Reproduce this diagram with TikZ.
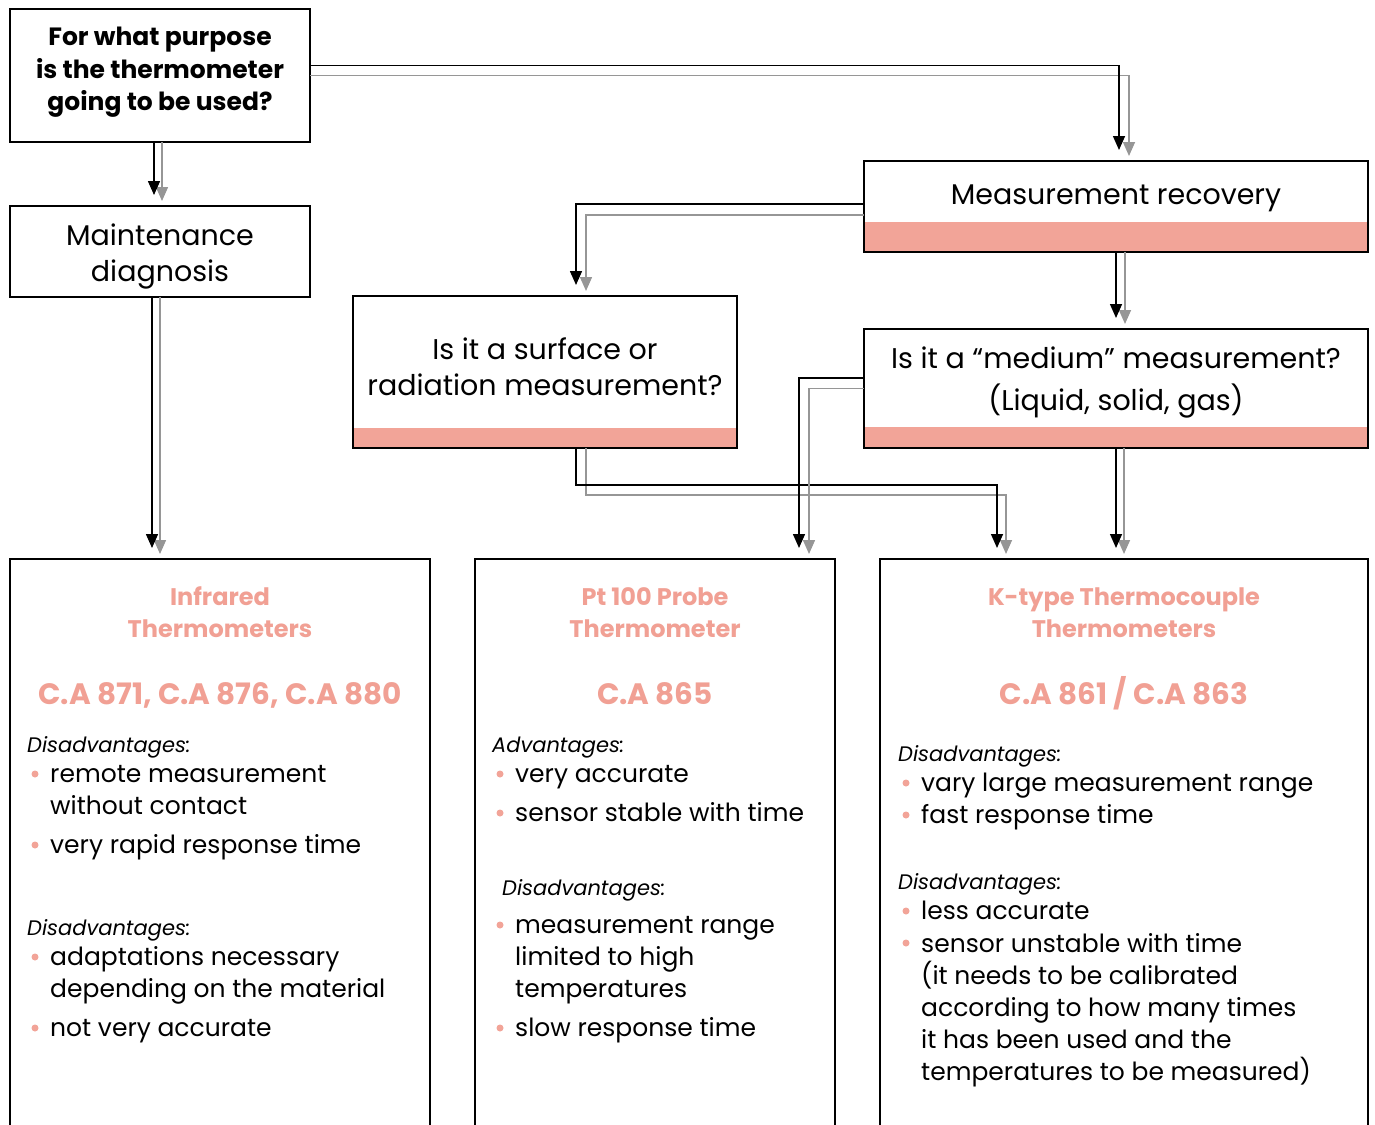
\documentclass[tikz,border=0pt]{standalone}
\usepackage{fontspec}
\setmainfont{Poppins}
\usetikzlibrary{arrows.meta}
\definecolor{barpink}{RGB}{242, 164, 152}
\definecolor{textpink}{RGB}{241, 160, 148}
\definecolor{linegrey}{RGB}{150, 150, 150}
\tikzset{
  box/.style={
    draw,
    line width=2.5pt,
    fill=white,
    inner sep=0pt,
    outer sep=0pt,
    anchor=north west,
  },
  bar/.style={
    path picture={
      \fill[barpink] ([yshift=#1]path picture bounding box.south west)
        rectangle (path picture bounding box.south east);
    },
  },
  blk/.style={draw=black, line width=1.5pt, -{Triangle[width=12pt,length=14pt]}, shorten >=11pt},
  gry/.style={draw=linegrey, line width=1.5pt, -{Triangle[width=12pt,length=14pt]}, shorten >=5pt},
  question/.style={font=\bfseries\fontsize{25}{32}\selectfont, align=center, anchor=base, inner sep=0pt},
  boxtext/.style={font=\fontsize{28.5}{36}\selectfont, align=center, anchor=base, inner sep=0pt},
  title/.style={text=textpink, font=\bfseries\fontsize{24}{32}\selectfont, align=center, anchor=base, inner sep=0pt},
  model/.style={text=textpink, font=\bfseries\fontsize{29.5}{32}\selectfont, anchor=base, inner sep=0pt},
  head/.style={font=\itshape\fontsize{21}{24}\selectfont, anchor=base west, inner sep=0pt},
  itemtext/.style={font=\fontsize{25}{32}\selectfont, align=left, anchor=base west, inner sep=0pt},
  dot/.style={circle, fill=barpink, inner sep=0pt, minimum size=7pt},
}
% bullet point: name, x of dot, x of text, first baseline, last baseline, text
\newcommand{\bitem}[6]{%
  \node[dot] (#1dot) at (#2,#4-8) {};
  \node[itemtext] (#1) at (#3,#5) {#6};
}

\begin{document}
\begin{tikzpicture}[x=1pt, y=-1pt]
  \useasboundingbox (0,0) rectangle (1375,1124);
  \clip (0,0) rectangle (1375,1124);

  % Question boxes
  \node[box, minimum width=300pt, minimum height=133pt] (purpose) at (10,9) {};
  \node[box, minimum width=300pt, minimum height=91pt] (maint) at (10,206) {};
  \node[box, bar=30pt, minimum width=504pt, minimum height=91pt] (recovery) at (864,161) {};
  \node[box, bar=20pt, minimum width=384pt, minimum height=152pt] (surface) at (353,296) {};
  \node[box, bar=21pt, minimum width=504pt, minimum height=119pt] (medium) at (864,329) {};

  % texts sit on the baseline of their last line
  \node[question] (purposetext) at (160,110) {For what purpose\\is the thermometer\\going to be used?};
  \node[boxtext] (mainttext) at (160,281) {Maintenance\\diagnosis};
  \node[boxtext] (recoverytext) at (1116,204) {Measurement recovery};
  \node[boxtext] (surfacetext) at (545,395) {Is it a surface or\\radiation measurement?};
  \node[boxtext, font=\fontsize{28.5}{42}\selectfont] (mediumtext) at (1116,410) {Is it a “medium” measurement?\\(Liquid, solid, gas)};

  % Thermometer boxes
  \node[box, minimum width=420pt, minimum height=600pt] (infrared) at (10,559) {};
  \node[box, minimum width=360pt, minimum height=600pt] (pt) at (475,559) {};
  \node[box, minimum width=488pt, minimum height=600pt] (ktype) at (880,559) {};

  % Connectors
  \draw[gry] (purpose.east) -| ([xshift=13pt]recovery.north);
  \draw[blk] ([yshift=10pt]purpose.east) -| ([xshift=3pt]recovery.north);
  \draw[gry] ([xshift=2pt]purpose.south) -- ([xshift=2pt]purpose.south |- maint.north);
  \draw[blk] ([xshift=-6pt]purpose.south) -- ([xshift=-6pt]purpose.south |- maint.north);
  \draw[gry] (maint.south) -- (maint.south |- infrared.north);
  \draw[blk] ([xshift=-8pt]maint.south) -- ([xshift=-8pt]maint.south |- infrared.north);
  \draw[gry] ([yshift=-8.5pt]recovery.west) -| ([xshift=41pt]surface.north);
  \draw[blk] ([yshift=2.5pt]recovery.west) -| ([xshift=31pt]surface.north);
  \draw[gry] ([xshift=9pt]recovery.south) -- ([xshift=9pt]recovery.south |- medium.north);
  \draw[blk] (recovery.south) -- (recovery.south |- medium.north);
  \draw[gry] ([xshift=41pt]surface.south) -- ++(0,47) -| ([xshift=-118pt]ktype.north);
  \draw[blk] ([xshift=31pt]surface.south) -- ++(0,37) -| ([xshift=-127pt]ktype.north);
  \draw[gry] (medium.west) -| ([xshift=154pt]pt.north);
  \draw[blk] ([yshift=10.5pt]medium.west) -| ([xshift=144pt]pt.north);
  \draw[gry] ([xshift=8pt]medium.south) -- ([xshift=8pt]medium.south |- ktype.north);
  \draw[blk] (medium.south) -- (medium.south |- ktype.north);

  % Infrared
  \node[title] (irtitle) at (220,637) {Infrared\\Thermometers};
  \node[model] (irmodel) at (220,704) {C.A 871, C.A 876, C.A 880};
  \node[head] (irhead) at (27,752) {Disadvantages:};
  \bitem{irremote}{35}{50}{782}{814}{remote measurement\\without contact}
  \bitem{irrapid}{35}{50}{853}{853}{very rapid response time}
  \node[head] (irheadb) at (27,935) {Disadvantages:};
  \bitem{iradapt}{35}{50}{965}{997}{adaptations necessary\\depending on the material}
  \bitem{iraccur}{35}{50}{1036}{1036}{not very accurate}

  % Pt 100
  \node[title] (pttitle) at (655,637) {Pt 100 Probe\\Thermometer};
  \node[model] (ptmodel) at (655,704) {C.A 865};
  \node[head] (pthead) at (492,752) {Advantages:};
  \bitem{ptaccur}{500}{515}{782}{782}{very accurate}
  \bitem{ptstable}{500}{515}{821}{821}{sensor stable with time}
  \node[head] (ptheadb) at (502,895) {Disadvantages:};
  \bitem{ptrange}{500}{515}{933}{997}{measurement range\\limited to high\\temperatures}
  \bitem{ptslow}{500}{515}{1036}{1036}{slow response time}

  % K-type
  \node[title] (ktitle) at (1124,637) {K-type Thermocouple\\Thermometers};
  \node[model] (kmodel) at (1124,704) {C.A 861 / C.A 863};
  \node[head] (khead) at (898,761) {Disadvantages:};
  \bitem{krange}{906}{921}{791}{791}{vary large measurement range}
  \bitem{kfast}{906}{921}{823}{823}{fast response time}
  \node[head] (kheadb) at (898,889) {Disadvantages:};
  \bitem{kaccur}{906}{921}{919}{919}{less accurate}
  \bitem{kunstable}{906}{921}{951}{1080}{sensor unstable with time\\(it needs to be calibrated\\according to how many times\\it has been used and the\\temperatures to be measured)}
\end{tikzpicture}
\end{document}
